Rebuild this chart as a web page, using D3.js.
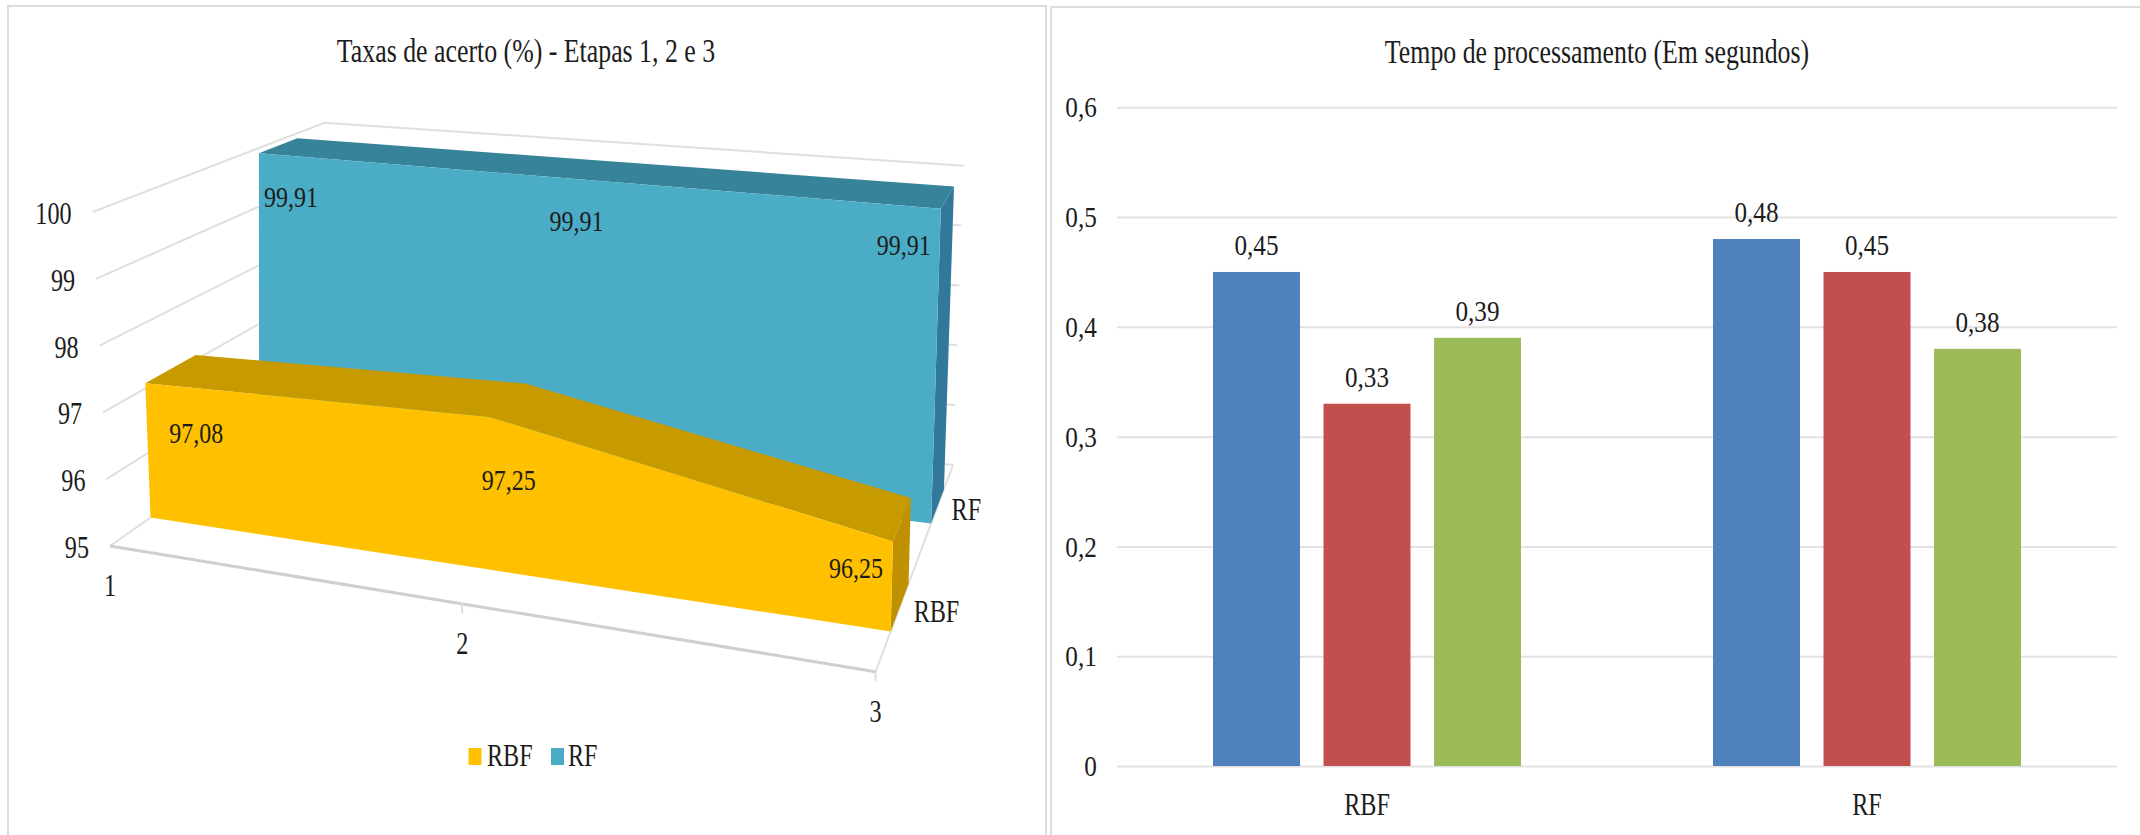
<!DOCTYPE html>
<html lang="pt">
<head>
<meta charset="utf-8">
<title>Taxas de acerto e tempo de processamento</title>
<script src="https://cdn.jsdelivr.net/npm/d3@7"></script>
<style>
  html, body { margin: 0; background: #fff; }
  svg { display: block; }
  text { font-family: "Liberation Serif", serif; fill: #1c1c1c; }
</style>
</head>
<body>
<svg id="chart" width="2140" height="835"></svg>
<script>
// Taxas de acerto por etapa
const etapas = [1, 2, 3];
const modelos = ["RBF", "RF"];
const acertoRBF = [97.08, 97.25, 96.25];
const acertoRF = [99.91, 99.91, 99.91];
const valorTicks = [95, 96, 97, 98, 99, 100];

// Tempo de processamento
const grupos = ["RBF", "RF"];
const tempoRBF = [0.45, 0.33, 0.39];
const tempoRF = [0.48, 0.45, 0.38];
const tempoTicks = [0, 0.1, 0.2, 0.3, 0.4, 0.5, 0.6];

const decimal = v => String(v).replace(".", ",");
const svg = d3.select("#chart");

// Text is set in a narrow cut: horizontally squeezed serif
function label(g, str, x, y, size, squeeze, anchor = "middle") {
  return g.append("text")
    .attr("transform", `translate(${x},${y}) scale(${squeeze},1)`)
    .attr("text-anchor", anchor)
    .attr("font-size", size)
    .text(str);
}

// Panel frames
const frames = svg.append("g").attr("fill", "#fff").attr("stroke", "#dcdcdc").attr("stroke-width", 2);
frames.append("rect").attr("x", 8).attr("y", 6).attr("width", 1038).attr("height", 840);
frames.append("rect").attr("x", 1051).attr("y", 7).attr("width", 1100).attr("height", 840);

/* ---------- 3D area chart ---------- */
const left = svg.append("g");
label(left, "Taxas de acerto (%) - Etapas 1, 2 e 3", 526, 62, 34, 0.76);

// Box corners: [front/back][low/high] on the two ends of the category axis
const box = {
  start: { front: { low: [110, 546], high: [92.6, 212] }, back: { low: [318, 400], high: [324.5, 122.7] } },
  end:   { front: { low: [875.6, 671.7], high: [884, 297] }, back: { low: [953, 465], high: [963.5, 165.7] } }
};
const along = d3.scaleLinear().domain(etapas).range([0, 0.46, 1]);
const up = d3.scaleLinear().domain([95, 100]).range([0, 1]);
const depthBand = { RBF: [0.195, 0.426], RF: [0.717, 0.883] };

const mix = (a, b, t) => [a[0] + (b[0] - a[0]) * t, a[1] + (b[1] - a[1]) * t];
function project(etapa, valor, depth) {
  const t = along(etapa), h = up(valor);
  const corner = (side, level) => mix(box.start[side][level], box.end[side][level], t);
  const low = mix(corner("front", "low"), corner("back", "low"), depth);
  const high = mix(corner("front", "high"), corner("back", "high"), depth);
  return mix(low, high, h);
}
const path = d3.line();
const closed = pts => path(pts) + "Z";

// Walls and floor
const walls = left.append("g").attr("fill", "none").attr("stroke", "#dfdfdf").attr("stroke-width", 2);
valorTicks.forEach(v => {
  walls.append("path").attr("d", path([project(1, v, 0), project(1, v, 1), project(3, v, 1)]));
});
walls.append("path").attr("d", path([project(3, 95, 1), project(3, 95, 0)]));
walls.append("path").attr("d", path([project(1, 95, 0), project(3, 95, 0)])).attr("stroke", "#cfcfcf").attr("stroke-width", 3);
etapas.slice(1).forEach(e => {
  const [x, y] = project(e, 95, 0);
  walls.append("line").attr("x1", x).attr("x2", x).attr("y1", y).attr("y2", y + 10);
});

// Ribbon for one series: top, end cap, then front face
function ribbon(valores, [front, back], colors) {
  const g = left.append("g");
  const topFace = [
    ...etapas.map((e, i) => project(e, valores[i], front)),
    ...etapas.map((e, i) => project(e, valores[i], back)).reverse()
  ];
  g.append("path").attr("d", closed(topFace)).attr("fill", colors.top);
  const last = etapas.length - 1;
  g.append("path").attr("fill", colors.side).attr("d", closed([
    project(etapas[last], valores[last], front), project(etapas[last], valores[last], back),
    project(etapas[last], 95, back), project(etapas[last], 95, front)
  ]));
  g.append("path").attr("fill", colors.front).attr("d", closed([
    ...etapas.map((e, i) => project(e, valores[i], front)),
    project(etapas[last], 95, front), project(etapas[0], 95, front)
  ]));
}
const coresRF = { front: "#4BACC6", top: "#37839A", side: "#31789A" };
const coresRBF = { front: "#FFC000", top: "#C79A00", side: "#BF9000" };
ribbon(acertoRF, depthBand.RF, coresRF);
ribbon(acertoRBF, depthBand.RBF, coresRBF);

// Data labels sit inside the front faces
const shift = { RF: [[32, 54], [4, 52], [-37, 46]], RBF: [[51, 60], [19, 73], [-37, 37]] };
[["RF", acertoRF], ["RBF", acertoRBF]].forEach(([m, valores]) => {
  valores.forEach((v, i) => {
    const [x, y] = project(etapas[i], v, depthBand[m][0]);
    label(left, decimal(v), x + shift[m][i][0], y + shift[m][i][1], 30, 0.8);
  });
});

// Axis labels
valorTicks.forEach(v => {
  const [x, y] = project(1, v, 0);
  label(left, v, x - 21, y + 12, 31, 0.78, "end");
});
etapas.forEach(e => {
  const [x, y] = project(e, 95, 0);
  label(left, e, x, y + 50, 31, 0.78);
});
modelos.forEach(m => {
  const d = d3.mean(depthBand[m]);
  const [x, y] = project(3, 95, d);
  label(left, m, x + 14, y + 14, 31, 0.78, "start");
});

// Legend
const legenda = [["RBF", coresRBF.front, 468.5, 487], ["RF", coresRF.front, 551, 568]];
legenda.forEach(([nome, cor, xs, xt]) => {
  left.append("rect").attr("x", xs).attr("y", 748).attr("width", 13).attr("height", 17).attr("fill", cor);
  label(left, nome, xt, 766, 31, 0.78, "start");
});

/* ---------- Grouped bars ---------- */
const right = svg.append("g");
label(right, "Tempo de processamento (Em segundos)", 1597, 63, 34, 0.76);

const y = d3.scaleLinear().domain([0, 0.6]).range([766, 107.3]);
const x0 = d3.scaleBand().domain(grupos).range([1117, 2117]);
const x1 = d3.scaleBand().domain(d3.range(3)).range([96, 404]).paddingInner(0.213);
const cores = ["#4F81BD", "#C0504D", "#9BBB59"];
const series = { RBF: tempoRBF, RF: tempoRF };

const yAxis = right.append("g").attr("transform", "translate(1117,0)")
  .call(d3.axisLeft(y).tickValues(tempoTicks).tickSize(-1000).tickPadding(20).tickFormat(decimal));
yAxis.select(".domain").remove();
yAxis.selectAll(".tick line").attr("stroke", "#e2e2e2").attr("stroke-width", 2);
yAxis.selectAll(".tick text")
  .attr("font-size", 30).attr("font-family", "Liberation Serif").attr("fill", "#1c1c1c")
  .attr("transform", "scale(0.84,1)").attr("x", -24);

grupos.forEach(g => {
  const gx = x0(g);
  series[g].forEach((v, i) => {
    right.append("rect")
      .attr("x", gx + x1(i)).attr("width", x1.bandwidth())
      .attr("y", y(v)).attr("height", y(0) - y(v))
      .attr("fill", cores[i]);
    label(right, decimal(v), gx + x1(i) + x1.bandwidth() / 2, y(v) - 17, 30, 0.84);
  });
  label(right, g, gx + x0.bandwidth() / 2, 815, 31, 0.78);
});
</script>
</body>
</html>
